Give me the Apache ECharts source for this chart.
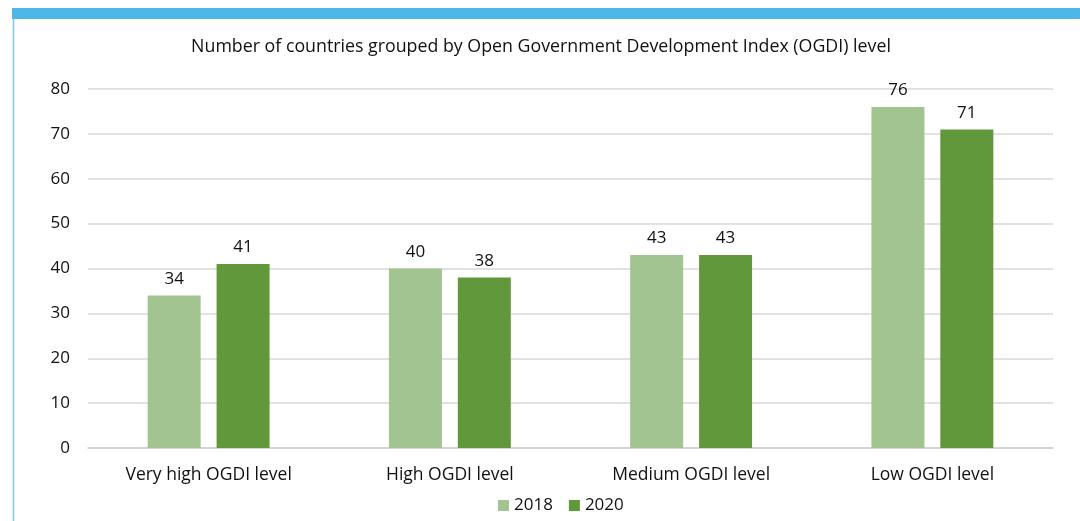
<!DOCTYPE html>
<html>
<head>
<meta charset="utf-8">
<script src="https://cdn.jsdelivr.net/npm/echarts@6/dist/echarts.min.js"></script>
<style>
  html, body { margin: 0; padding: 0; background: #fff; }
  #chart { width: 1080px; height: 521px; }
</style>
</head>
<body>
<div id="chart"></div>
<script>
// Countries per OGDI level, by survey year
const categories = ['Very high OGDI level', 'High OGDI level', 'Medium OGDI level', 'Low OGDI level'];
const years = ['2018', '2020'];
const values2018 = [34, 40, 43, 76];
const values2020 = [41, 38, 43, 71];
const yTicks = [0, 10, 20, 30, 40, 50, 60, 70, 80];

const FONT = '"Open Sans", Lato, sans-serif';
const chart = echarts.init(document.getElementById('chart'));

const labelStyle = {
  show: true,
  position: 'top',
  distance: 8,
  color: '#111',
  fontSize: 17,
  fontFamily: FONT
};

chart.setOption({
  animation: false,
  textStyle: { fontFamily: FONT },
  title: {
    text: 'Number of countries grouped by Open Government Development Index (OGDI) level',
    left: 536,
    textAlign: 'center',
    top: 33,
    textStyle: { fontSize: 17.8, fontWeight: 'normal', color: '#111', fontFamily: FONT }
  },
  graphic: [
    { type: 'rect', shape: { x: 12, y: 8, width: 1068, height: 11 }, style: { fill: '#4DB8E8' } },
    { type: 'line', shape: { x1: 13.5, y1: 19, x2: 13.5, y2: 521 }, style: { stroke: '#7CC8EE', lineWidth: 1.5 } }
  ],
  legend: {
    data: years,
    bottom: 2,
    left: 493,
    itemWidth: 11,
    itemHeight: 11,
    itemGap: 16,
    icon: 'rect',
    textStyle: { fontSize: 17, color: '#111', fontFamily: FONT }
  },
  grid: { left: 88, right: 27, top: 89, bottom: 73 },
  xAxis: {
    type: 'category',
    data: categories,
    axisLine: { lineStyle: { color: '#d0d0d0', width: 1.5 } },
    axisTick: { show: false },
    axisLabel: { fontSize: 17.5, color: '#111', margin: 18, fontFamily: FONT }
  },
  yAxis: {
    type: 'value',
    min: yTicks[0],
    max: yTicks[yTicks.length - 1],
    interval: yTicks[1] - yTicks[0],
    axisLine: { show: false },
    axisTick: { show: false },
    splitLine: { lineStyle: { color: '#d9d9d9', width: 1.5 } },
    axisLabel: { fontSize: 17, color: '#111', margin: 18, fontFamily: FONT }
  },
  series: [
    {
      name: years[0],
      type: 'bar',
      data: values2018,
      barWidth: 53,
      barGap: '30%',
      itemStyle: { color: '#A1C490' },
      label: labelStyle
    },
    {
      name: years[1],
      type: 'bar',
      data: values2020,
      barWidth: 53,
      itemStyle: { color: '#62983C' },
      label: labelStyle
    }
  ]
});
</script>
</body>
</html>
